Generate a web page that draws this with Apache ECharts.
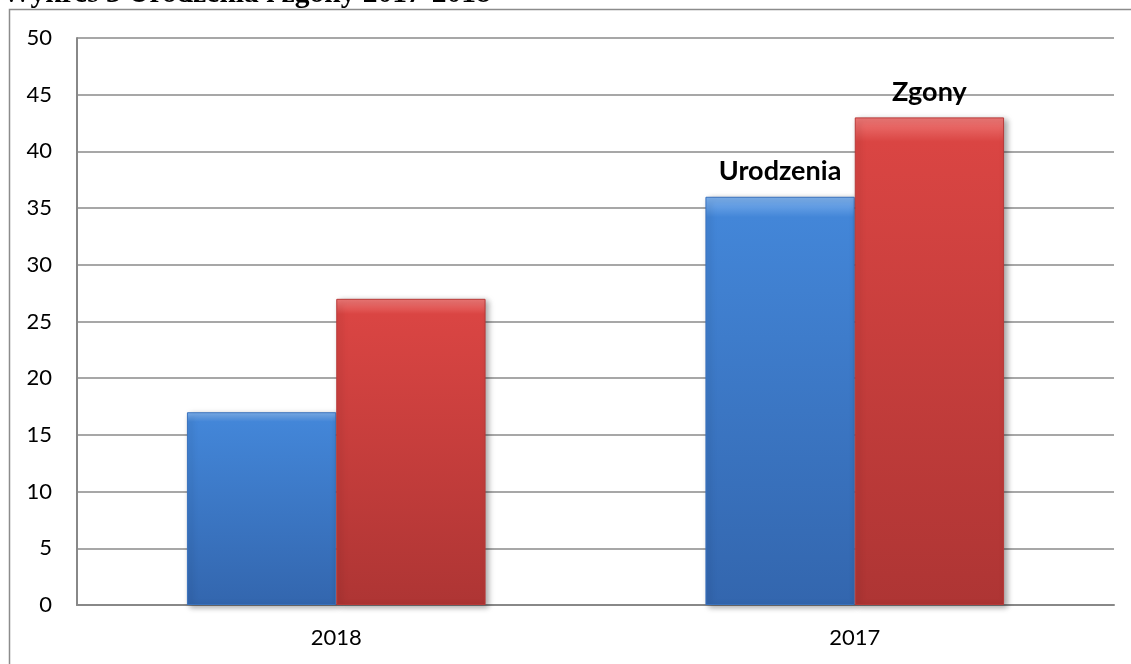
<!DOCTYPE html>
<html>
<head>
<meta charset="utf-8">
<script src="https://cdn.jsdelivr.net/npm/echarts@6/dist/echarts.min.js"></script>
<style>
html,body{margin:0;padding:0;background:#fff;}
#c{width:1131px;height:664px;}
</style>
</head>
<body>
<div id="c"></div>
<script>
const categories = ['2018', '2017'];
const urodzenia = [17, 36];
const zgony = [27, 43];
const yTicks = [0, 5, 10, 15, 20, 25, 30, 35, 40, 45, 50];
const titleText = 'Wykres 3 Urodzenia i zgony 2017-2018';

const chart = echarts.init(document.getElementById('c'), null, {renderer: 'canvas'});

function grad(light, mid, dark) {
  return new echarts.graphic.LinearGradient(0, 0, 0, 1, [
    {offset: 0, color: light},
    {offset: 0.05, color: mid},
    {offset: 1, color: dark}
  ]);
}

const labelStyle = {
  show: true, position: 'top', distance: 12,
  fontFamily: 'Lato', fontWeight: 'bold', fontSize: 27, color: '#000',
  formatter: p => p.seriesName
};

chart.setOption({
  animation: false,
  graphic: [
    {type: 'rect', shape: {x: 9.5, y: 9.5, width: 1140, height: 700},
     style: {fill: 'none', stroke: '#8c8c8c', lineWidth: 1.5}, z: 0},
    {type: 'text', left: 2, top: -21,
     style: {text: titleText, fontFamily: 'Liberation Serif', fontWeight: 'bold', fontSize: 29.5, fill: '#000'}}
  ],
  grid: {left: 77, right: 17, top: 38, bottom: 59},
  xAxis: {
    type: 'category', data: categories,
    axisLine: {lineStyle: {color: '#888', width: 2}},
    axisTick: {show: false},
    axisLabel: {fontFamily: 'Lato', fontSize: 22, color: '#000', margin: 22}
  },
  yAxis: {
    type: 'value', min: 0, max: 50, interval: 5,
    axisLine: {show: true, lineStyle: {color: '#888', width: 2}},
    axisTick: {show: false},
    axisLabel: {fontFamily: 'Lato', fontSize: 22, color: '#000', margin: 25,
      formatter: v => yTicks.includes(v) ? String(v) : ''},
    splitLine: {lineStyle: {color: '#8a8a8a', width: 1.5}}
  },
  series: [
    {
      name: 'Urodzenia', type: 'bar', barWidth: '28.8%', barGap: '0%',
      data: urodzenia.map((v, i) => i === 1 ? {value: v, label: labelStyle} : v),
      itemStyle: {color: grad('#7fb2ee', '#4386d8', '#3366ae'),
        borderColor: '#3a72bd', borderWidth: 1,
        shadowColor: 'rgba(0,0,0,0.35)', shadowBlur: 6, shadowOffsetX: 3, shadowOffsetY: 2}
    },
    {
      name: 'Zgony', type: 'bar', barWidth: '28.8%', barGap: '0%',
      data: zgony.map((v, i) => i === 1 ? {value: v, label: labelStyle} : v),
      itemStyle: {color: grad('#f07a78', '#da4543', '#ae3534'),
        borderColor: '#b83a39', borderWidth: 1,
        shadowColor: 'rgba(0,0,0,0.35)', shadowBlur: 6, shadowOffsetX: 3, shadowOffsetY: 2}
    }
  ]
});
</script>
</body>
</html>
